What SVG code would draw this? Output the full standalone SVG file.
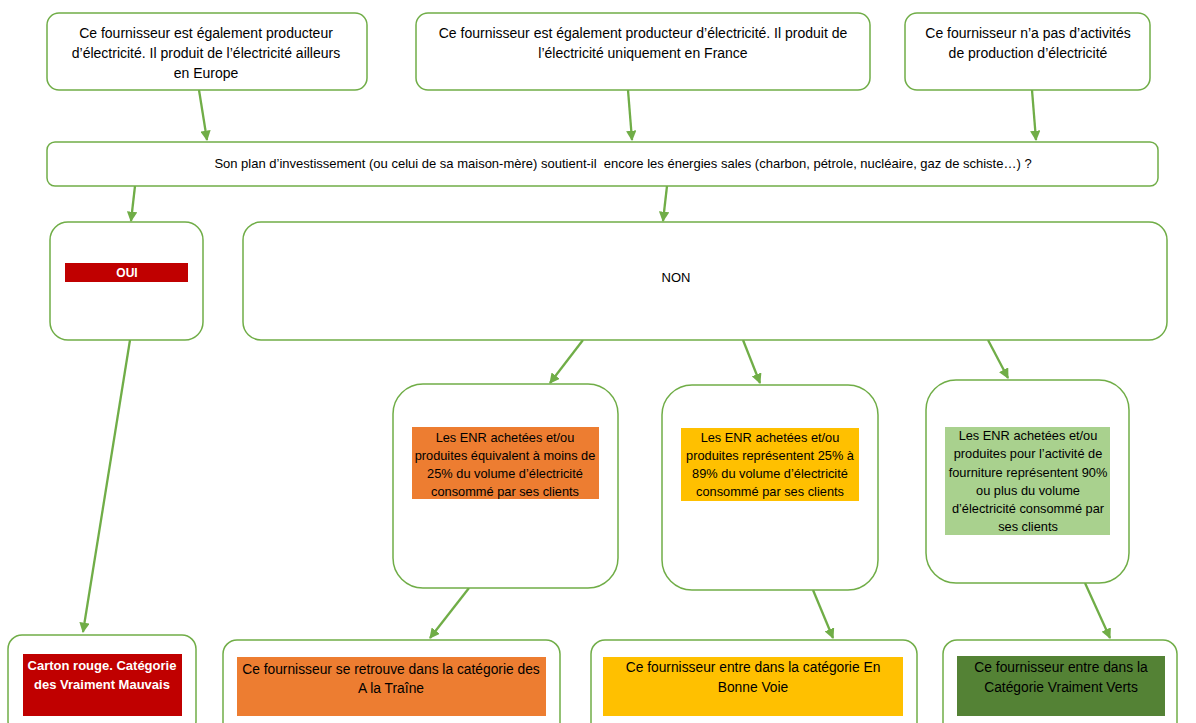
<svg xmlns="http://www.w3.org/2000/svg" width="1196" height="723" viewBox="0 0 1196 723">
<defs>
<marker id="ah" viewBox="0 0 10 10" refX="9" refY="5" markerWidth="4.5" markerHeight="4.5" orient="auto" markerUnits="strokeWidth">
<path d="M0,0 L10,5 L0,10 z" fill="#70AD47"/>
</marker>
<style>
.box{fill:#fff;stroke:#70AD47;stroke-width:1.5}
.t{font-family:"Liberation Sans",Arial,sans-serif;fill:#000;text-anchor:middle}
.top{font-size:14px}
.q{font-size:13px}
.e{font-size:12.8px}
.b{font-size:13.8px}
.w{fill:#fff;font-weight:bold}
.c{stroke:#70AD47;stroke-width:2.3;fill:none;marker-end:url(#ah)}
</style>
</defs>
<rect width="1196" height="723" fill="#fff"/>
<g id="connectors">
<line class="c" x1="199" y1="90" x2="207" y2="140"/>
<line class="c" x1="628" y1="90" x2="632" y2="140"/>
<line class="c" x1="1032" y1="90" x2="1036" y2="140"/>
<line class="c" x1="135" y1="186" x2="131" y2="221"/>
<line class="c" x1="667" y1="186" x2="663" y2="221"/>
<line class="c" x1="583" y1="340" x2="550" y2="383"/>
<line class="c" x1="743" y1="340" x2="760" y2="383"/>
<line class="c" x1="988" y1="340" x2="1008" y2="378"/>
<line class="c" x1="130" y1="340" x2="83" y2="632"/>
<line class="c" x1="469" y1="588" x2="430" y2="638"/>
<line class="c" x1="813" y1="590" x2="833" y2="638"/>
<line class="c" x1="1085" y1="583" x2="1110" y2="638"/>
</g>
<g id="top1">
<rect class="box" x="47" y="13" width="320" height="77" rx="12"/>
<text class="t top" x="206" y="38">Ce fournisseur est également producteur</text>
<text class="t top" x="206" y="58">d’électricité. Il produit de l’électricité ailleurs</text>
<text class="t top" x="206" y="78">en Europe</text>
</g>
<g id="top2">
<rect class="box" x="416" y="13" width="454" height="77" rx="12"/>
<text class="t top" x="643" y="38">Ce fournisseur est également producteur d’électricité. Il produit de</text>
<text class="t top" x="643" y="58">l’électricité uniquement en France</text>
</g>
<g id="top3">
<rect class="box" x="905" y="13" width="245" height="77" rx="12"/>
<text class="t top" x="1028" y="38">Ce fournisseur n’a pas d’activités</text>
<text class="t top" x="1028" y="58">de production d’électricité</text>
</g>
<g id="question">
<rect class="box" x="47" y="142" width="1111" height="44" rx="8"/>
<text class="t q" x="623" y="168" xml:space="preserve">Son plan d’investissement (ou celui de sa maison-mère) soutient-il  encore les énergies sales (charbon, pétrole, nucléaire, gaz de schiste…) ?</text>
</g>
<g id="oui">
<rect class="box" x="50" y="222" width="153" height="118" rx="18"/>
<rect x="65" y="263" width="123" height="19" fill="#C00000"/>
<text class="t w" x="127" y="277" font-size="12">OUI</text>
</g>
<g id="non">
<rect class="box" x="243" y="222" width="924" height="118" rx="18"/>
<text class="t q" x="676" y="282">NON</text>
</g>
<g id="enrA">
<rect class="box" x="393" y="384" width="225" height="204" rx="30"/>
<rect x="412" y="427" width="187" height="72" fill="#ED7D31"/>
<text class="t e" x="505" y="442">Les ENR achetées et/ou</text>
<text class="t e" x="505" y="460">produites équivalent à moins de</text>
<text class="t e" x="505" y="478">25% du volume d’électricité</text>
<text class="t e" x="505" y="496">consommé par ses clients</text>
</g>
<g id="enrB">
<rect class="box" x="662" y="385" width="216" height="205" rx="30"/>
<rect x="681" y="428" width="178" height="73" fill="#FFC000"/>
<text class="t e" x="770" y="442">Les ENR achetées et/ou</text>
<text class="t e" x="770" y="460">produites représentent 25% à</text>
<text class="t e" x="770" y="478">89% du volume d’électricité</text>
<text class="t e" x="770" y="496">consommé par ses clients</text>
</g>
<g id="enrC">
<rect class="box" x="926" y="380" width="203" height="203" rx="30"/>
<rect x="945" y="427" width="165" height="108" fill="#A9D18E"/>
<text class="t e" x="1028" y="440">Les ENR achetées et/ou</text>
<text class="t e" x="1028" y="458">produites pour l’activité de</text>
<text class="t e" x="1028" y="477">fourniture représentent 90%</text>
<text class="t e" x="1028" y="495">ou plus du volume</text>
<text class="t e" x="1028" y="513">d’électricité consommé par</text>
<text class="t e" x="1028" y="531">ses clients</text>
</g>
<g id="res1">
<rect class="box" x="8" y="635" width="188" height="100" rx="14"/>
<rect x="23" y="654" width="159" height="62" fill="#C00000"/>
<text class="t w" x="102" y="670" font-size="13">Carton rouge. Catégorie</text>
<text class="t w" x="102" y="689" font-size="13">des Vraiment Mauvais</text>
</g>
<g id="res2">
<rect class="box" x="223" y="640" width="337" height="100" rx="14"/>
<rect x="237" y="657" width="309" height="59" fill="#ED7D31"/>
<text class="t b" x="391" y="674">Ce fournisseur se retrouve dans la catégorie des</text>
<text class="t b" x="391" y="693">A la Traîne</text>
</g>
<g id="res3">
<rect class="box" x="591" y="640" width="326" height="100" rx="14"/>
<rect x="603" y="657" width="300" height="59" fill="#FFC000"/>
<text class="t b" x="753" y="672">Ce fournisseur entre dans la catégorie En</text>
<text class="t b" x="753" y="692">Bonne Voie</text>
</g>
<g id="res4">
<rect class="box" x="943" y="640" width="234" height="100" rx="14"/>
<rect x="957" y="656" width="208" height="60" fill="#548235"/>
<text class="t b" x="1061" y="672">Ce fournisseur entre dans la</text>
<text class="t b" x="1061" y="692">Catégorie Vraiment Verts</text>
</g>
</svg>
